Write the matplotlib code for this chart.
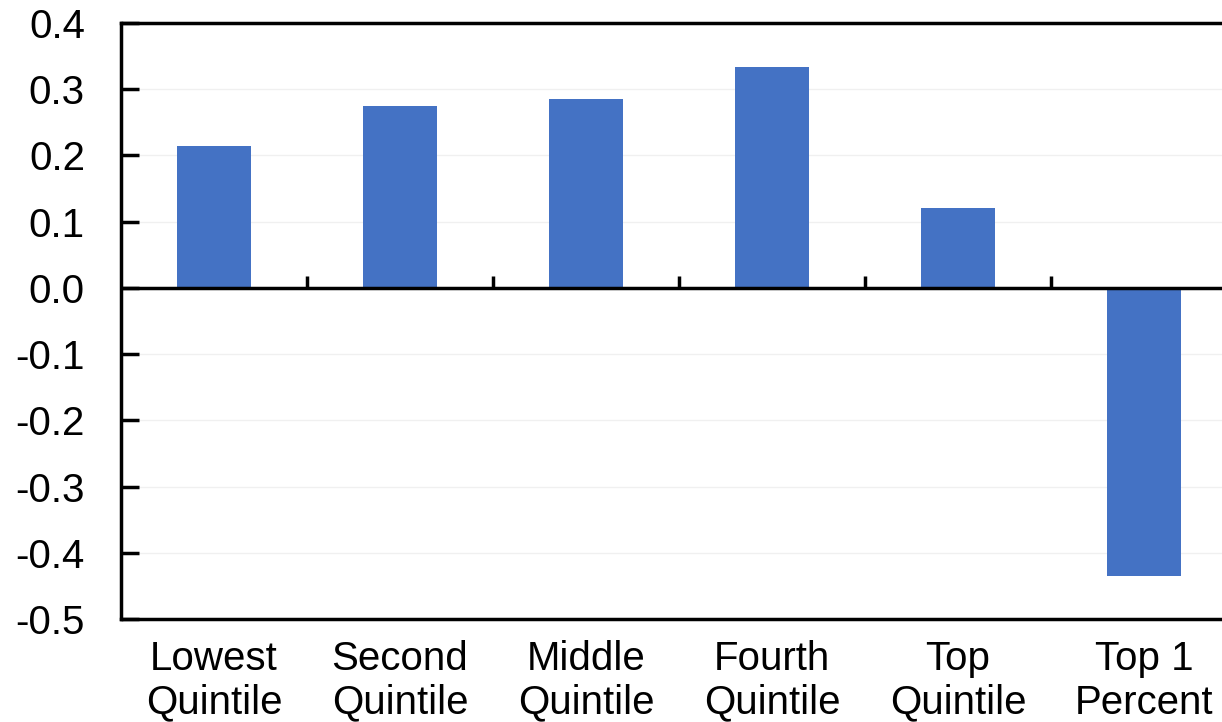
import matplotlib
matplotlib.use("Agg")
import matplotlib.pyplot as plt
import numpy as np

plt.rcParams['font.family'] = ['Liberation Sans', 'DejaVu Sans']

groups = ["Lowest\nQuintile", "Second\nQuintile", "Middle\nQuintile",
          "Fourth\nQuintile", "Top\nQuintile", "Top 1\nPercent"]
values = [0.215, 0.275, 0.285, 0.334, 0.120, -0.435]
yticks = [0.4, 0.3, 0.2, 0.1, 0.0, -0.1, -0.2, -0.3, -0.4, -0.5]

fig = plt.figure(figsize=(12.22, 7.22), dpi=100)
# right edge runs past the figure, so the right spine is cut off
ax = fig.add_axes([121 / 1222, 103 / 722, 1116 / 1222, 596 / 722])

x = np.arange(len(groups))
ax.bar(x, values, width=0.4, color="#4472C4", zorder=3)

ax.set_xlim(-0.5, len(groups) - 0.5)
ax.set_ylim(-0.5, 0.4)
ax.set_yticks(yticks)
ax.set_yticklabels([f"{v:.1f}" for v in yticks])
ax.yaxis.grid(True, color="#f0f0f0", linewidth=1, zorder=0)

ax.set_xticks(x)
ax.set_xticklabels(groups, linespacing=1.2)
ax.tick_params(axis="x", length=0, pad=15, labelsize=29)
ax.tick_params(axis="y", direction="in", length=13, width=2.5, pad=26,
               labelsize=29)

for side in ["left", "top", "bottom", "right"]:
    ax.spines[side].set_linewidth(2.5)
    ax.spines[side].set_color("black")

# zero line with short dividers between categories
ax.axhline(0, color="black", linewidth=2.5, zorder=4)
ax.vlines(np.arange(0.5, len(groups) - 0.5, 1.0), 0, 0.018,
          color="black", linewidth=2.5, zorder=4)

fig.savefig("out.png", dpi=100)
